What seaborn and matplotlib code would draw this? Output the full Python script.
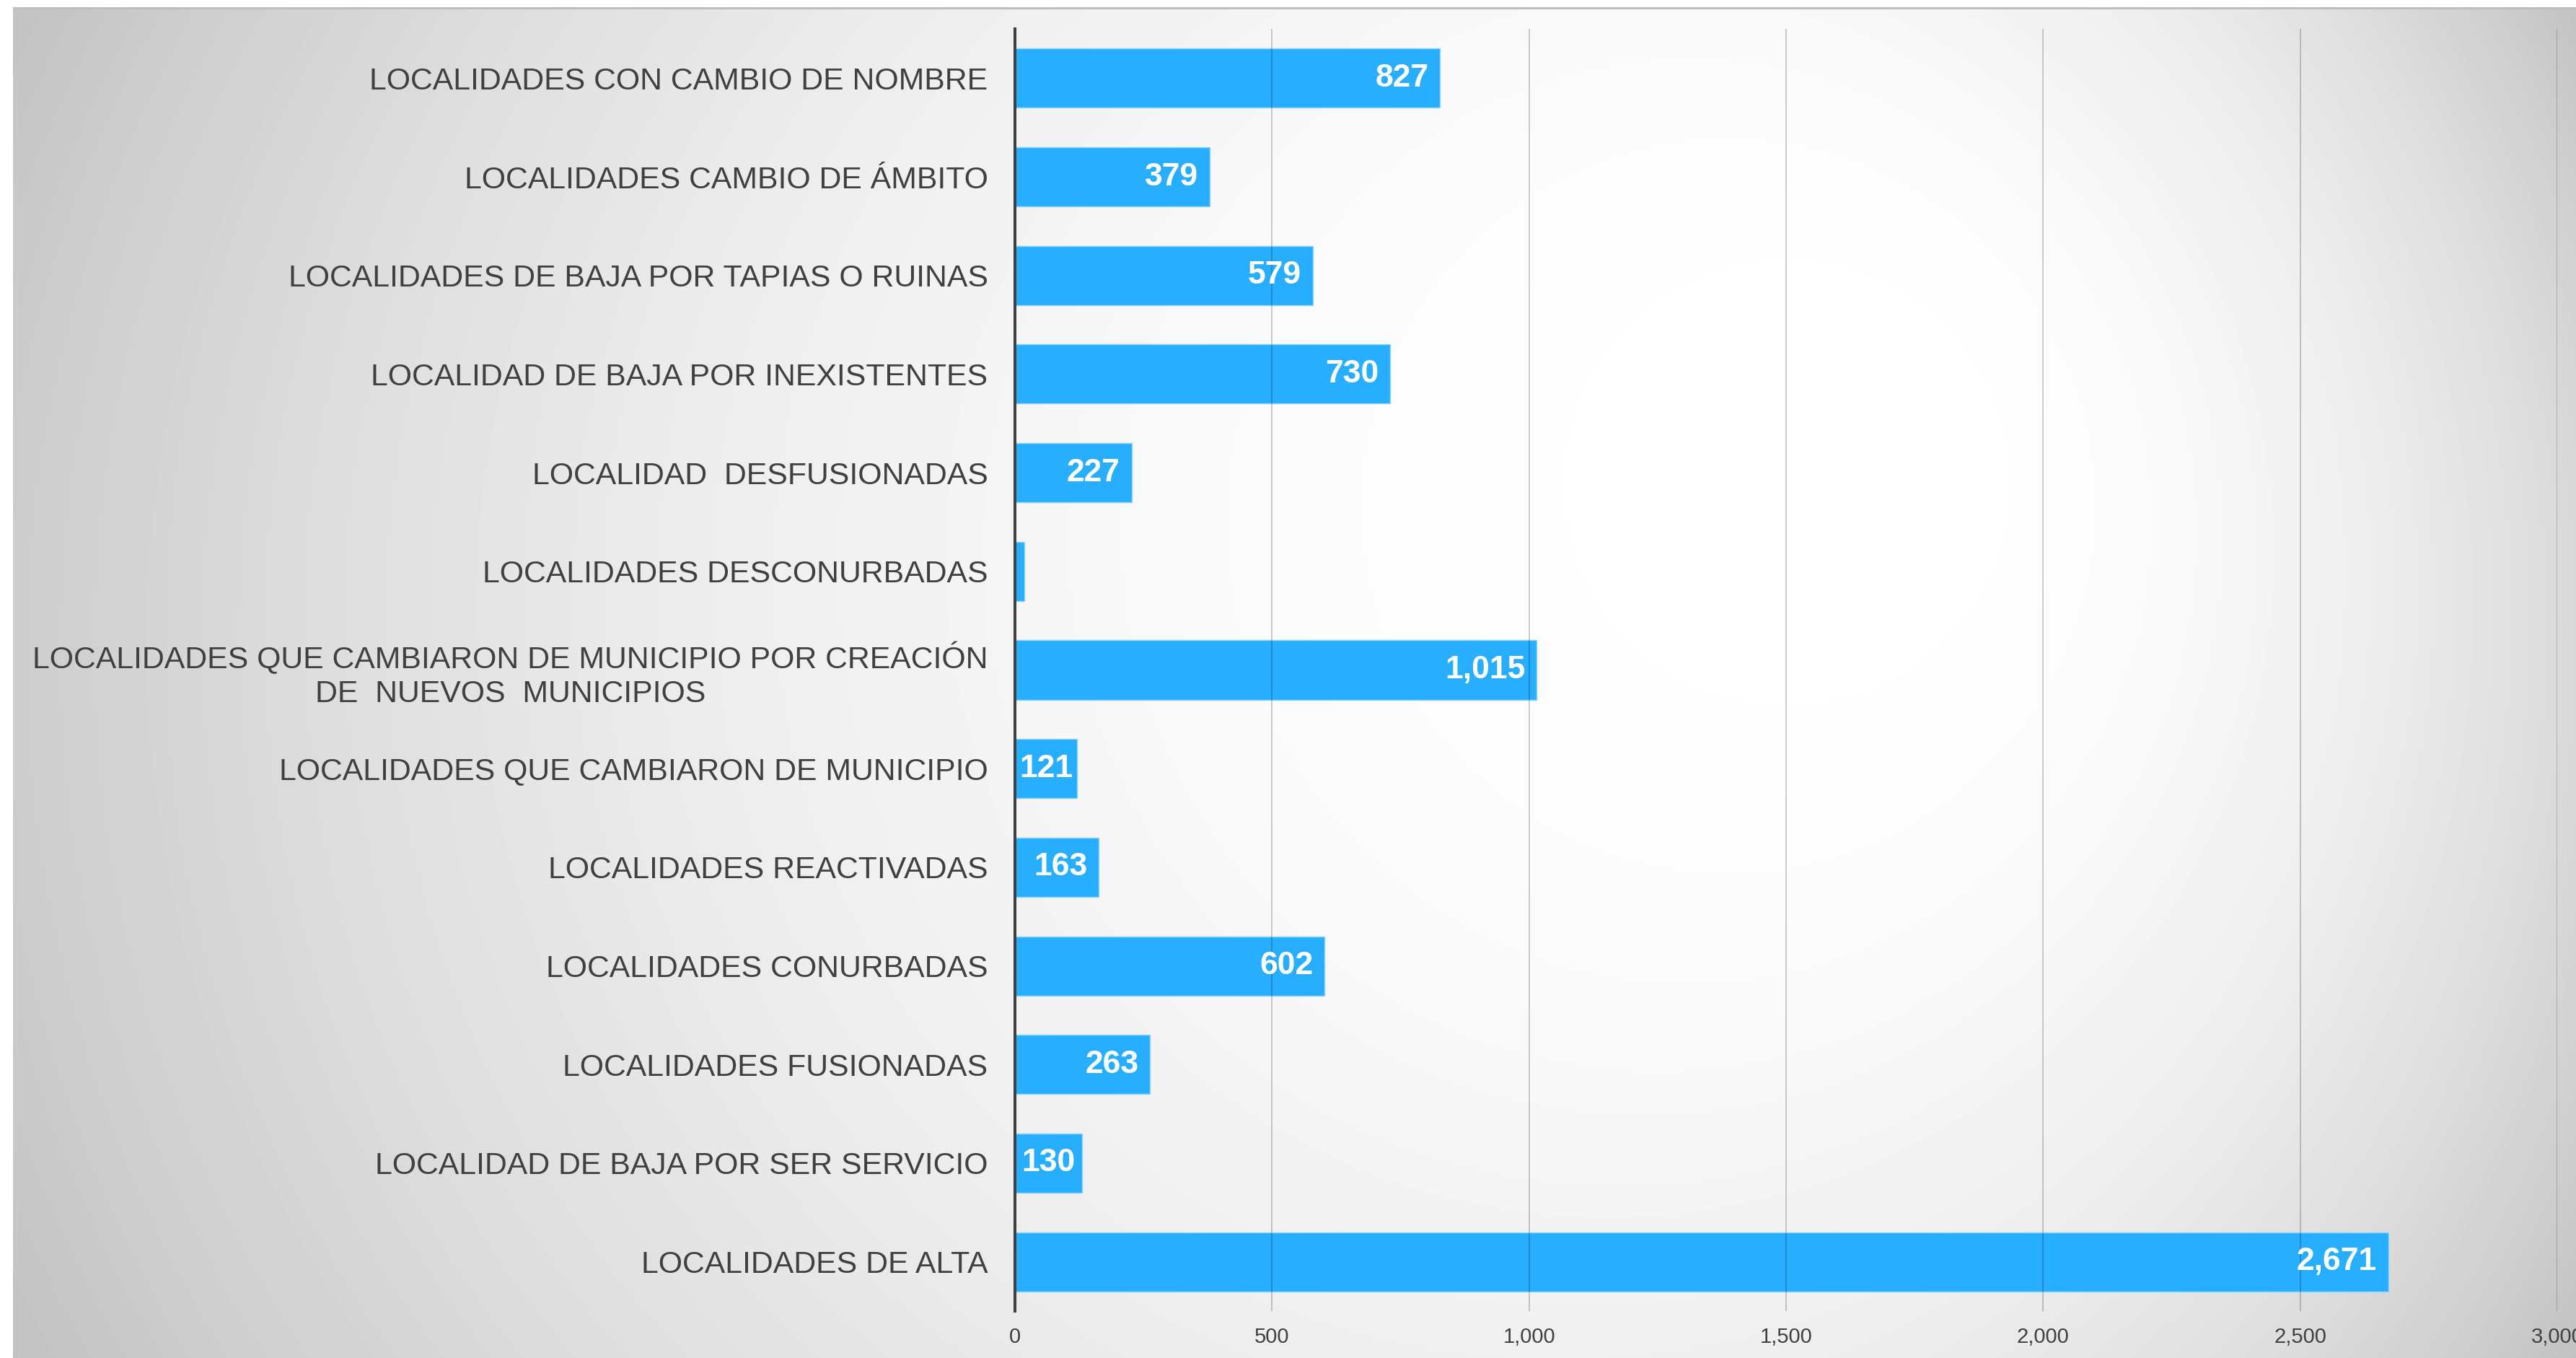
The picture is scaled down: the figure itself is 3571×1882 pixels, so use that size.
import numpy as np
import pandas as pd
import matplotlib
matplotlib.use("Agg")
import matplotlib.pyplot as plt
import seaborn as sns

# ---------------- data ----------------
categories = [
    "LOCALIDADES CON CAMBIO DE NOMBRE",
    "LOCALIDADES CAMBIO DE ÁMBITO",
    "LOCALIDADES DE BAJA POR TAPIAS O RUINAS",
    "LOCALIDAD DE BAJA POR INEXISTENTES",
    "LOCALIDAD  DESFUSIONADAS",
    "LOCALIDADES DESCONURBADAS",
    "LOCALIDADES QUE CAMBIARON DE MUNICIPIO POR CREACIÓN\nDE  NUEVOS  MUNICIPIOS",
    "LOCALIDADES QUE CAMBIARON DE MUNICIPIO",
    "LOCALIDADES REACTIVADAS",
    "LOCALIDADES CONURBADAS",
    "LOCALIDADES FUSIONADAS",
    "LOCALIDAD DE BAJA POR SER SERVICIO",
    "LOCALIDADES DE ALTA",
]
values = [827, 379, 579, 730, 227, 18, 1015, 121, 163, 602, 263, 130, 2671]
value_labels = ["827", "379", "579", "730", "227", "", "1,015", "121", "163", "602", "263", "130", "2,671"]
x_ticks = [0, 500, 1000, 1500, 2000, 2500, 3000]
x_tick_labels = ["0", "500", "1,000", "1,500", "2,000", "2,500", "3,000"]

df = pd.DataFrame({"categoria": categories, "valor": values})

# ---------------- style ----------------
sns.set_style("white")
plt.rcParams["font.family"] = ["Liberation Sans", "DejaVu Sans"]

W, H = 3571, 1882
DPI = 100
fig = plt.figure(figsize=(W / DPI, H / DPI), dpi=DPI, facecolor="white")

# background gradient (decorative)
yy, xx = np.mgrid[0:H, 0:W].astype(float)
Fx, Fy = 2600.0, 620.0
Cx, Cy = 1785.0, 941.0
R = 2030.0
dx, dy = xx - Fx, yy - Fy
ex, ey = Fx - Cx, Fy - Cy
a = dx * dx + dy * dy
b = ex * dx + ey * dy
c = ex * ex + ey * ey - R * R
den = -b + np.sqrt(b * b - a * c)
t = np.clip(a / np.maximum(den, 1e-9), 0, 1)
g = 1 - 0.245 * t ** 2.2
g[:10, :] = 1.0
g[:, :18] = 1.0
g[10:13, 18:] = 0.74
g[13:, 18:20] = np.minimum(g[13:, 18:20], 0.86)
bg = fig.add_axes([0, 0, 1, 1], zorder=-5)
bg.imshow(g, cmap="gray", vmin=0, vmax=1, extent=(0, W, H, 0), interpolation="bilinear", aspect="auto")
bg.set_xlim(0, W)
bg.set_ylim(H, 0)
bg.axis("off")

# main axes
left, right = 1407 / W, 3545 / W
top, bottom = 1 - 40 / H, 1 - 1817 / H
ax = fig.add_axes([left, bottom, right - left, top - bottom], zorder=1)
ax.set_facecolor("none")

bar_color = "#27aefe"
sns.barplot(data=df, x="valor", y="categoria", orient="h", color=bar_color,
            saturation=1, width=0.6, edgecolor="#8fd4ff", linewidth=1.0, ax=ax, zorder=2)

ax.set_xlim(0, 3000)
ax.set_ylim(len(categories) - 0.5, -0.5)
ax.set_xticks(x_ticks)
ax.set_xticklabels(x_tick_labels)
ax.set_xlabel("")
ax.set_ylabel("")

for s in ["top", "right", "bottom"]:
    ax.spines[s].set_visible(False)
ax.spines["left"].set_color("#404040")
ax.spines["left"].set_linewidth(2.9)
ax.spines["left"].set_zorder(5)

ax.grid(axis="x", color="#000000", alpha=0.25, linewidth=1.1, zorder=3)
ax.grid(axis="y", visible=False)
ax.set_axisbelow(False)

ax.tick_params(axis="y", length=0, pad=27, labelsize=30.8, labelcolor="#404040")
ax.tick_params(axis="x", length=0, pad=16, labelsize=21, labelcolor="#404040")
for lbl in ax.get_yticklabels():
    lbl.set_multialignment("center")

fig.canvas.draw()
renderer = fig.canvas.get_renderer()
px_per_unit = ax.transData.transform((1, 0))[0] - ax.transData.transform((0, 0))[0]
for i, (v, lab) in enumerate(zip(values, value_labels)):
    if lab:
        txt = ax.annotate(lab, xy=(v, i), xytext=(-16, 0), textcoords="offset pixels",
                          ha="right", va="center", color="white", fontsize=32,
                          fontweight="bold", zorder=6)
        tw = txt.get_window_extent(renderer).width
        bw = v * px_per_unit
        if bw - tw < 2 * 16:
            off = max((bw - tw) / 2, 2)
            txt.set_position((-off, 0))

fig.savefig("out.png", dpi=DPI, facecolor="white")
